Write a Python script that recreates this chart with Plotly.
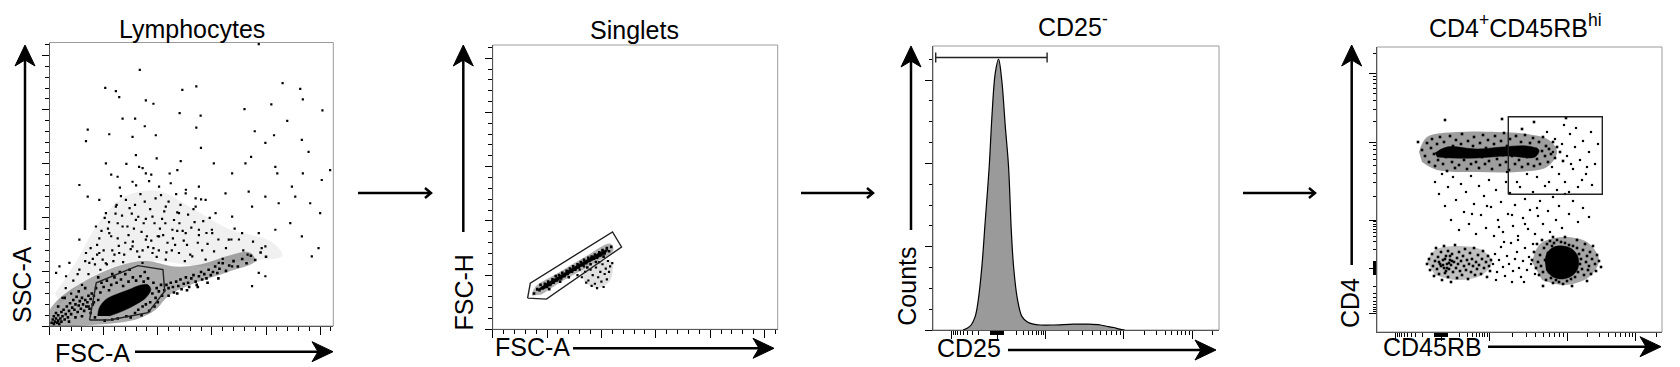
import numpy as np
import plotly.graph_objects as go

W, H = 1680, 367
FONT = "Liberation Sans, Arial, sans-serif"
FS = 25

# ---------------- data ----------------
# Panel 1: FSC-A vs SSC-A (units: thousands, linear 0-262K)
p1_gate = [(37, 5.5), (43.2, 39.9), (81.7, 55.8), (104.8, 52.2), (106.4, 32.2), (91, 12.3), (55.5, 5.5)]
p1_core = [(44.5, 9.2), (46, 16.9), (52.1, 24.5), (61.3, 29.1), (73.6, 33.7), (82.8, 37.4), (90.5, 38.3),
           (93.6, 33.7), (89, 26.1), (79.8, 19.9), (67.5, 13.8), (55.2, 9.2)]
p1_zone_dense = [(0, 0), (0, 14), (12, 28), (30, 40), (45, 48), (65, 56), (90, 60), (115, 55), (140, 57),
                 (165, 65), (185, 68), (190, 60), (165, 50), (135, 40), (110, 28), (98, 15), (80, 6), (55, 2),
                 (25, 0)]
p1_zone_med = [(5, 30), (25, 60), (45, 95), (70, 120), (100, 125), (130, 110), (165, 90), (205, 78), (215, 65),
               (180, 60), (140, 55), (100, 60), (60, 55), (30, 40), (10, 20)]
p1_sparse = [(51.5, 220.2), (61.3, 217.2), (64.4, 211.7), (83.4, 236.8), (122.7, 218.4), (135.6, 221.5),
             (193.3, 260.7), (215.3, 224.5), (231.6, 219.3), (234, 209.5), (252.1, 199.4), (204.9, 204.9),
             (180.1, 200.6), (219.6, 189.6), (96, 205.5), (89, 208.6), (120.2, 196.9), (139.6, 194.5),
             (135.6, 183.4), (67.5, 191.7), (79.1, 191.7), (55.2, 177.3), (35.3, 181.6), (33.7, 170.9),
             (76.7, 174.8), (88, 184.7), (98.2, 176.4), (139.9, 164.7), (189.6, 180.1), (233.1, 172.1),
             (207.4, 176.4), (199.4, 169.3), (52.1, 150.3), (62.9, 138), (76.7, 133.4), (79.8, 158),
             (121.2, 152.5), (118.1, 144.2), (151.8, 150.3), (168.7, 141.1), (181, 150.3), (186.2, 156.4),
             (208.6, 147.2), (210.4, 141.1), (234, 141.1), (259.2, 144.2), (251.5, 135), (239.3, 161),
             (223.9, 128.8), (184, 124.2), (162.6, 122.7), (138, 128.8), (125.8, 122.7), (101.2, 128.8),
             (89, 141.1), (82.8, 147.2), (70.6, 116.6), (61.3, 110.4), (52.1, 104.3), (46, 116.6),
             (35.3, 119.6), (27.6, 130.4), (42.9, 92), (55.2, 85.9), (67.5, 92), (79.8, 98.2), (95.1, 101.2),
             (107.4, 110.4), (119.6, 104.3), (135, 110.4), (144.2, 116.6), (153.4, 104.3), (168.7, 101.2),
             (187.1, 110.4), (199.4, 119.6), (211.7, 113.5), (227, 119.6), (240.8, 113.5), (250, 104.3),
             (222.4, 95.1), (208.6, 89), (193.3, 85.9), (177.9, 85.9), (165.6, 79.8), (150.3, 85.9),
             (138, 89), (125.8, 85.9), (113.5, 89), (101.2, 82.8), (89, 79.8), (76.7, 73.6), (64.4, 67.5),
             (46, 67.5), (33.7, 67.5), (27.6, 79.8), (18.4, 58.3), (15.3, 46), (9.2, 55.2), (6.1, 49.1),
             (27.6, 52.1), (36.8, 58.3), (49.1, 61.3), (242.3, 64.4), (248.5, 72.1), (233.1, 82.8),
             (199.4, 73.6), (199.4, 46), (193.3, 49.1), (187.1, 36.8), (168.7, 55.2), (156.4, 58.3),
             (144.2, 61.3), (131.9, 64.4), (119.6, 67.5), (107.4, 61.3), (95.1, 67.5), (85.9, 58.3)]
p1_medium = [(40, 62), (44, 75), (48, 88), (52, 58), (55, 96), (58, 70), (61, 104), (63, 81), (66, 120), (69, 66),
             (72, 92), (74, 109), (77, 78), (80, 130), (82, 101), (85, 87), (88, 115), (91, 73), (94, 140), (97, 95),
             (100, 83), (103, 121), (106, 106), (109, 77), (112, 132), (115, 98), (118, 88), (121, 112), (124, 79),
             (128, 103), (131, 91), (135, 118), (138, 84), (142, 97), (146, 76), (150, 89), (57, 140), (65, 128),
             (71, 150), (79, 112), (86, 146), (92, 134), (99, 155), (104, 99), (111, 141), (117, 122), (126, 126),
             (133, 108), (140, 117), (47, 52), (53, 57), (60, 66), (68, 59), (75, 71), (83, 64), (90, 83), (96, 72),
             (102, 90), (108, 68), (114, 81), (36, 48), (42, 57), (50, 70), (57, 83), (63, 95), (70, 77), (78, 90),
             (86, 70), (93, 108), (99, 64), (105, 84), (113, 70), (120, 95), (127, 75), (134, 96), (141, 70),
             (148, 100), (156, 80), (163, 72), (171, 90), (179, 70), (188, 78), (30, 38), (22, 42), (15, 35),
             (12, 26), (20, 30), (44, 66), (67, 102), (84, 122), (110, 115), (125, 60), (160, 62), (175, 80),
             (38, 72), (46, 81), (54, 90), (59, 60), (64, 74), (73, 84), (81, 69), (87, 95), (94, 79), (101, 70),
             (107, 95), (116, 75), (123, 88), (130, 66), (137, 77), (145, 86), (152, 69), (168, 80), (183, 66),
             (196, 72), (76, 104), (89, 99), (98, 118), (118, 105), (62, 112), (51, 100), (33, 60), (26, 48)]
p1_halo = [(38, 12), (40, 20), (41, 28), (42, 8), (43, 35), (45, 24), (47, 31), (48, 40), (50, 36), (51, 5),
           (53, 42), (55, 33), (57, 38), (58, 6), (60, 45), (62, 40), (63, 7), (66, 43), (68, 37), (70, 48),
           (71, 9), (73, 41), (75, 8), (77, 45), (79, 12), (80, 42), (82, 15), (84, 46), (86, 18), (87, 41),
           (89, 20), (91, 44), (93, 22), (95, 30), (96, 40), (98, 26), (99, 35), (101, 32), (103, 38), (104, 28),
           (97, 18), (92, 14), (85, 10), (100, 22), (58, 48), (65, 50), (74, 52), (88, 50), (45, 45), (36, 18)]
p1_streak = [(106, 33), (108, 38), (110, 35), (112, 40), (114, 36), (115, 31), (117, 41), (119, 37), (121, 43),
             (122, 34), (124, 39), (126, 45), (128, 40), (129, 36), (131, 44), (133, 47), (135, 41), (136, 38),
             (138, 46), (140, 50), (141, 43), (143, 48), (145, 44), (147, 52), (149, 47), (151, 50), (153, 55),
             (155, 49), (157, 53), (160, 58), (163, 51), (166, 56), (170, 60), (174, 55), (178, 62), (182, 58),
             (186, 65), (190, 61), (195, 68), (200, 64), (110, 28), (118, 30), (127, 33), (137, 36), (146, 40),
             (156, 44)]
p1_tail = [(2, 3), (3, 6), (4, 2), (4, 9), (5, 4), (6, 7), (6, 12), (7, 3), (8, 5), (8, 10), (9, 2), (10, 7),
           (11, 4), (11, 13), (12, 9), (13, 15), (14, 6), (15, 11), (16, 18), (17, 8), (18, 14), (19, 21),
           (20, 11), (21, 17), (22, 24), (23, 15), (24, 20), (25, 27), (26, 13), (27, 19), (28, 23), (29, 16),
           (30, 26), (31, 20), (32, 14), (33, 24), (34, 18), (35, 22), (36, 28), (37, 16), (38, 25), (39, 30),
           (24, 8), (30, 9), (18, 4), (14, 26), (8, 18), (27, 32), (33, 35), (41, 22)]

# Panel 2: FSC-A vs FSC-H (thousands)
p2_gate = [(32.1, 28.7), (34.6, 42.6), (110.2, 89.8), (118.5, 75.9), (49.4, 27.8)]
p2_core = [(40, 35.5), (46, 40), (60, 48.5), (80, 60.5), (100, 71.5), (106, 74), (104, 70.5), (85, 60), (65, 48),
           (47, 37)]
p2_zone_band = [(36, 31), (39, 39), (60, 52), (85, 67), (108, 79), (111, 73), (90, 59), (65, 45), (45, 32)]
p2_zone_below = [(80, 54), (96, 62), (109, 63), (108, 45), (96, 38), (85, 43)]
p2_band = [(38, 33), (41, 37), (43, 36), (44, 41), (46, 38), (48, 42), (50, 39), (51, 44), (53, 41), (55, 46),
           (56, 43), (58, 49), (59, 45), (61, 50), (63, 47), (64, 52), (66, 49), (68, 54), (69, 51), (71, 56),
           (73, 53), (74, 58), (76, 55), (78, 60), (79, 57), (81, 62), (83, 59), (84, 64), (86, 61), (88, 66),
           (89, 63), (91, 67), (93, 65), (94, 69), (96, 66), (98, 71), (99, 68), (101, 73), (103, 70), (105, 75),
           (107, 72), (109, 76), (102, 67), (95, 62), (90, 60), (87, 57), (70, 48), (62, 44), (52, 37)]
p2_below = [(78, 50), (82, 48), (85, 53), (88, 45), (90, 55), (92, 50), (94, 42), (95, 57), (97, 48), (99, 53),
            (100, 44), (101, 60), (103, 51), (104, 56), (105, 46), (106, 63), (107, 53), (108, 58), (96, 38),
            (91, 40), (86, 43), (102, 39), (84, 58), (80, 55), (110, 61), (98, 62)]

# Panel 3: CD25 histogram (x in display channels 0-285, y counts)
p3_channel = [30, 34, 38, 42, 45, 48.7, 52, 56, 59, 62, 65.3, 68.5, 72, 75.3, 78, 80.3, 84, 88.7, 93.7, 100,
              107, 120, 140, 155, 167, 175, 180, 186, 191]
p3_counts = [0, 2, 6, 16, 35, 76, 130, 196, 262, 308, 325, 300, 245, 196, 120, 76, 38, 16, 10, 7,
             6, 6, 7, 7, 6, 4, 3, 1, 0]
p3_gate = (2.7, 113.7)
p3_gate_level = 327

# Panel 4: CD45RB vs CD4 (display channels 0-285)
p4_gate = (131.3, 225.3, 137.7, 215.3)
p4_top_core = [(58, 179), (70, 185), (100, 183), (125, 185), (150, 186), (162, 182), (158, 175), (130, 176),
               (100, 174), (75, 174), (60, 175)]
p4_br_core = [(168, 70), (170, 79), (177, 85), (186, 86), (195, 83), (201, 75), (201, 64), (196, 57), (186, 53),
              (176, 55), (169, 62)]
p4_zone_top = [(42, 180), (50, 195), (80, 200), (120, 200), (150, 198), (172, 192), (180, 180), (170, 165),
               (140, 160), (100, 160), (60, 162), (45, 170)]
p4_zone_bl = [(50, 70), (58, 82), (80, 86), (105, 82), (115, 70), (105, 57), (80, 52), (58, 57)]
p4_zone_br = [(155, 70), (163, 88), (185, 95), (210, 90), (222, 72), (212, 55), (188, 47), (165, 52)]
p4_top = [(45, 182), (48, 176), (50, 189), (52, 170), (54, 184), (55, 193), (57, 178), (58, 166), (60, 188),
          (61, 172), (63, 195), (64, 181), (66, 168), (67, 190), (69, 175), (70, 161), (72, 183), (73, 196),
          (75, 170), (76, 186), (78, 164), (79, 192), (81, 177), (82, 167), (84, 188), (85, 198), (87, 172),
          (88, 182), (90, 163), (91, 191), (93, 176), (94, 168), (96, 186), (97, 195), (99, 170), (100, 180),
          (102, 164), (103, 189), (105, 175), (106, 197), (108, 168), (109, 184), (111, 192), (112, 171),
          (114, 179), (115, 163), (117, 188), (118, 196), (120, 173), (121, 182), (123, 167), (124, 191),
          (126, 177), (127, 199), (129, 170), (130, 186), (132, 162), (133, 193), (135, 176), (136, 184),
          (138, 168), (139, 196), (141, 180), (142, 172), (144, 190), (145, 165), (147, 184), (148, 197),
          (150, 175), (151, 168), (153, 189), (154, 180), (156, 194), (157, 166), (159, 183), (160, 173),
          (162, 190), (163, 168), (165, 181), (166, 195), (168, 176), (169, 186), (171, 170), (172, 183),
          (174, 178), (176, 190), (178, 174), (180, 185), (183, 180), (186, 171), (41, 190), (68, 212),
          (145, 203), (157, 210), (189, 214), (125, 213)]
p4_gate_pts = [(170, 200), (175, 165), (178, 193), (182, 158), (185, 188), (188, 150), (190, 176), (193, 198),
               (196, 163), (198, 185), (201, 145), (203, 172), (206, 191), (209, 158), (212, 180), (215, 147),
               (218, 168), (221, 188), (180, 142), (192, 140), (205, 152), (214, 200), (187, 207), (199, 204),
               (172, 150), (160, 155), (150, 158), (140, 150), (130, 160), (210, 165), (176, 180), (194, 168)]
p4_mid = [(58, 150), (62, 138), (65, 158), (68, 126), (71, 145), (74, 112), (76, 155), (79, 132), (82, 102),
          (84, 148), (87, 120), (89, 140), (92, 108), (94, 156), (97, 128), (99, 98), (102, 146), (104, 117),
          (107, 136), (109, 104), (112, 152), (114, 125), (117, 96), (119, 142), (121, 112), (124, 130),
          (126, 100), (129, 150), (131, 118), (133, 139), (136, 106), (138, 127), (141, 96), (143, 145),
          (146, 114), (148, 133), (151, 103), (153, 122), (156, 140), (158, 98), (161, 116), (163, 131),
          (166, 108), (168, 146), (171, 121), (173, 100), (176, 135), (179, 112), (182, 126), (185, 104),
          (188, 138), (192, 118), (196, 131), (201, 110), (206, 124), (212, 115), (95, 118), (110, 126),
          (122, 105), (135, 117), (148, 108), (160, 124)]
p4_bl = [(50, 68), (52, 73), (53, 62), (55, 78), (56, 66), (57, 56), (58, 71), (59, 84), (60, 63), (61, 75),
         (62, 58), (63, 68), (64, 80), (65, 52), (66, 72), (67, 64), (67, 86), (68, 59), (69, 76), (70, 68),
         (71, 55), (71, 81), (72, 63), (73, 72), (74, 50), (74, 67), (75, 78), (76, 60), (77, 70), (78, 87),
         (79, 64), (80, 74), (80, 54), (81, 68), (82, 80), (83, 61), (84, 71), (85, 57), (86, 76), (87, 66),
         (88, 83), (89, 62), (90, 72), (91, 53), (92, 68), (93, 79), (94, 60), (95, 73), (96, 66), (97, 84),
         (98, 57), (99, 70), (100, 63), (101, 77), (102, 67), (104, 58), (105, 73), (106, 81), (107, 64),
         (109, 70), (110, 55), (111, 76), (112, 66), (113, 61), (114, 72), (62, 70), (66, 67), (68, 73),
         (70, 64), (72, 69), (75, 71), (69, 61), (73, 76), (64, 66)]
p4_lm = [(116, 68), (118, 78), (120, 60), (122, 72), (124, 85), (126, 65), (128, 56), (130, 76), (132, 68),
         (134, 89), (136, 61), (138, 73), (140, 80), (142, 64), (144, 55), (146, 71), (148, 84), (150, 62),
         (152, 75), (154, 68), (156, 88), (158, 58), (119, 52), (127, 90), (141, 92), (135, 50), (147, 50)]
p4_br = [(155, 72), (157, 80), (159, 64), (160, 88), (161, 70), (162, 57), (163, 77), (164, 66), (165, 92),
         (166, 60), (167, 84), (168, 72), (169, 52), (170, 88), (171, 79), (172, 60), (173, 91), (174, 54),
         (175, 86), (176, 49), (177, 89), (179, 52), (180, 92), (182, 50), (184, 90), (186, 48), (188, 89),
         (190, 51), (192, 87), (194, 53), (196, 86), (198, 55), (200, 84), (201, 60), (202, 78), (203, 68),
         (204, 73), (205, 63), (206, 82), (207, 57), (208, 88), (209, 70), (210, 76), (211, 62), (212, 66),
         (213, 80), (214, 58), (215, 73), (216, 86), (218, 68), (219, 61), (220, 77), (222, 71), (224, 65),
         (200, 92), (188, 95), (176, 95), (166, 46), (195, 46), (210, 51)]

titles = ["Lymphocytes", "Singlets", "CD25<sup>-</sup>", "CD4<sup>+</sup>CD45RB<sup>hi</sup>"]
xlabels = ["FSC-A", "FSC-A", "CD25", "CD45RB"]
ylabels = ["SSC-A", "FSC-H", "Counts", "CD4"]

# biexponential display transform (value -> display channel)
BX_POS_LOG = [2, 3, 4, 5, 5.301]
BX_POS_U = [70.5, 112, 190, 258.7, 279]
BX_NEG_LOG = [2, 3]
BX_NEG_U = [57.5, 18.5]
BX_ZERO = 64


def biex(v):
    if abs(v) <= 100:
        return BX_ZERO + (v / 100) * ((BX_POS_U[0] - BX_ZERO) if v >= 0 else (BX_ZERO - BX_NEG_U[0]))
    if v > 0:
        return float(np.interp(np.log10(v), BX_POS_LOG, BX_POS_U))
    return float(np.interp(np.log10(-v), BX_NEG_LOG, BX_NEG_U))


biex_major = [-1000, 0, 1000, 10000, 100000]
biex_minor = ([-m * 100 for m in range(2, 10)] + [-m * 10 for m in range(1, 11)] + [m * 10 for m in range(1, 11)]
              + [m * 100 for m in range(2, 10)] + [m * 1000 for m in range(2, 10)]
              + [m * 10000 for m in range(2, 10)] + [200000])

# ---------------- layout geometry (pixels) ----------------
frames = [(49.5, 333.3, 42.5, 326), (492.7, 777.7, 45, 329.3), (933, 1219, 46, 330), (1377, 1662, 47, 332)]


def X(px):
    return px / W


def Y(py):
    return 1 - py / H


fig = go.Figure()


def add_zone(pts, ax, alpha):
    fig.add_trace(go.Scatter(x=[p[0] for p in pts], y=[p[1] for p in pts], mode="lines", fill="toself",
                             fillcolor="rgba(0,0,0,{})".format(alpha),
                             line=dict(color="rgba(0,0,0,0)", width=0, shape="spline"),
                             xaxis="x" + ax, yaxis="y" + ax, hoverinfo="skip"))


def add_dots(pts, ax, size=2.2):
    fig.add_trace(go.Scatter(x=[p[0] for p in pts], y=[p[1] for p in pts], mode="markers",
                             marker=dict(size=size, color="black", symbol="square", line=dict(width=0)),
                             xaxis="x" + ax, yaxis="y" + ax, hoverinfo="skip"))


def add_blob(pts, ax):
    fig.add_trace(go.Scatter(x=[p[0] for p in pts], y=[p[1] for p in pts], mode="lines", fill="toself",
                             fillcolor="black", line=dict(color="black", width=0.5, shape="spline"),
                             xaxis="x" + ax, yaxis="y" + ax, hoverinfo="skip"))


def add_gate(pts, ax):
    pts = list(pts) + [pts[0]]
    fig.add_trace(go.Scatter(x=[p[0] for p in pts], y=[p[1] for p in pts], mode="lines",
                             line=dict(color="#222", width=1.4), xaxis="x" + ax, yaxis="y" + ax,
                             hoverinfo="skip"))


# Panel 1
add_zone(p1_zone_med, "", 0.06)
add_zone(p1_zone_dense, "", 0.33)
add_dots(p1_sparse, "")
add_dots(p1_medium, "")
add_dots(p1_halo, "", 2.6)
add_dots(p1_streak, "", 2.6)
add_dots(p1_tail, "", 2.6)
add_blob(p1_core, "")
add_gate(p1_gate, "")

# Panel 2
add_zone(p2_zone_below, "2", 0.12)
add_zone(p2_zone_band, "2", 0.3)
add_dots(p2_band, "2", 2.6)
add_dots(p2_below, "2")
add_blob(p2_core, "2")
add_gate(p2_gate, "2")

# Panel 3
fig.add_trace(go.Scatter(x=p3_channel, y=p3_counts, mode="lines", fill="tozeroy", fillcolor="#9a9a9a",
                         line=dict(color="black", width=1.2, shape="spline"), xaxis="x3", yaxis="y3",
                         hoverinfo="skip"))
g0, g1 = p3_gate
fig.add_trace(go.Scatter(x=[g0, g0, None, g0, g1, None, g1, g1],
                         y=[p3_gate_level - 6, p3_gate_level + 6, None, p3_gate_level, p3_gate_level, None,
                            p3_gate_level - 6, p3_gate_level + 6],
                         mode="lines", line=dict(color="#222", width=1.4), xaxis="x3", yaxis="y3",
                         hoverinfo="skip"))

# Panel 4
add_zone(p4_zone_top, "4", 0.38)
add_zone(p4_zone_bl, "4", 0.25)
add_zone(p4_zone_br, "4", 0.35)
add_dots(p4_top, "4", 2.6)
add_dots(p4_gate_pts, "4")
add_dots(p4_mid, "4")
add_dots(p4_bl, "4", 2.6)
add_dots(p4_lm, "4")
add_dots(p4_br, "4", 2.6)
add_blob(p4_top_core, "4")
add_blob(p4_br_core, "4")
gx0, gx1, gy0, gy1 = p4_gate
add_gate([(gx0, gy0), (gx0, gy1), (gx1, gy1), (gx1, gy0)], "4")

# axes
lin_major = [0, 50, 100, 150, 200, 250]
lin_minor = [v for v in range(0, 261, 10) if v % 50]
cnt_major = [0, 100, 200, 300]
cnt_minor = [v for v in range(25, 340, 25) if v % 100]

axcommon = dict(showgrid=False, zeroline=False, showticklabels=False, ticks="outside", tickcolor="black",
                tickwidth=1, showline=True, linecolor="#555", linewidth=1, mirror=False, fixedrange=True)


def axis_spec(dom, rng, major, minor, ticklen, minorlen, anchor):
    d = dict(axcommon)
    d.update(domain=dom, range=rng, tickmode="array", tickvals=major, ticklen=ticklen, anchor=anchor,
             minor=dict(tickmode="array", tickvals=minor, ticklen=minorlen, ticks="outside",
                        tickcolor="black", tickwidth=1))
    return d


bmaj = [biex(v) for v in biex_major]
bmin = [biex(v) for v in biex_minor]

specs = [
    (lin_major, lin_minor, [0, 262.144], lin_major, lin_minor, [0, 262.144]),
    (lin_major, lin_minor, [0, 262.144], lin_major, lin_minor, [0, 262.144]),
    (bmaj, bmin, [0, 285], cnt_major, cnt_minor, [0, (330 - 46) / (250 / 3) * 100]),
    (bmaj, bmin, [0, 285], bmaj, bmin, [0, 285]),
]
for i, (fr, sp) in enumerate(zip(frames, specs)):
    l, r, t, b = fr
    sfx = "" if i == 0 else str(i + 1)
    fig.layout["xaxis" + sfx] = axis_spec([X(l), X(r)], sp[2], sp[0], sp[1], 8, 4, "y" + sfx)
    fig.layout["yaxis" + sfx] = axis_spec([Y(b), Y(t)], sp[5], sp[3], sp[4], 7, 3.5, "x" + sfx)

shapes = []
for i, (l, r, t, b) in enumerate(frames):
    shapes.append(dict(type="rect", xref="paper", yref="paper", x0=X(l), x1=X(r), y0=Y(b), y1=Y(t),
                       line=dict(color="#9a9a9a", width=1), layer="below"))


def big_arrow_v(x, y0, ytip):
    shapes.append(dict(type="line", xref="paper", yref="paper", x0=X(x), x1=X(x), y0=Y(y0), y1=Y(ytip + 12),
                       line=dict(color="black", width=2.5)))
    path = "M {},{} L {},{} L {},{} L {},{} Z".format(X(x), Y(ytip), X(x - 10), Y(ytip + 21), X(x), Y(ytip + 15),
                                                     X(x + 10), Y(ytip + 21))
    shapes.append(dict(type="path", xref="paper", yref="paper", path=path, fillcolor="black",
                       line=dict(color="black", width=1)))


def big_arrow_h(y, x0, xtip):
    shapes.append(dict(type="line", xref="paper", yref="paper", x0=X(x0), x1=X(xtip - 12), y0=Y(y), y1=Y(y),
                       line=dict(color="black", width=2.5)))
    path = "M {},{} L {},{} L {},{} L {},{} Z".format(X(xtip), Y(y), X(xtip - 21), Y(y - 10), X(xtip - 15), Y(y),
                                                     X(xtip - 21), Y(y + 10))
    shapes.append(dict(type="path", xref="paper", yref="paper", path=path, fillcolor="black",
                       line=dict(color="black", width=1)))


def small_arrow(x0, x1, y):
    shapes.append(dict(type="line", xref="paper", yref="paper", x0=X(x0), x1=X(x1 - 1), y0=Y(y), y1=Y(y),
                       line=dict(color="black", width=2.5)))
    path = "M {},{} L {},{} L {},{}".format(X(x1 - 6), Y(y - 5), X(x1), Y(y), X(x1 - 6), Y(y + 5))
    shapes.append(dict(type="path", xref="paper", yref="paper", path=path, line=dict(color="black", width=2.5)))


for (x, y0, yt) in [(25, 230, 45), (463.3, 232, 45), (911, 230, 46), (1351.7, 265, 45)]:
    big_arrow_v(x, y0, yt)
for (y, x0, xt) in [(351.7, 135, 333), (348.3, 573, 774), (350, 1008, 1216), (346.7, 1488, 1661)]:
    big_arrow_h(y, x0, xt)
for (x0, x1) in [(358, 431), (801, 873), (1243, 1315)]:
    small_arrow(x0, x1, 193)

annotations = []
title_pos = [(192, 29), (634, 30), (1073, 25), (1515, 26)]
for txt, (cx, cy) in zip(titles, title_pos):
    annotations.append(dict(text=txt, x=X(cx), y=Y(cy), xref="paper", yref="paper", showarrow=False,
                            xanchor="center", yanchor="middle", font=dict(family=FONT, size=FS, color="black")))
xl_pos = [(53, 353), (493, 347), (935, 348), (1381, 347)]
for txt, (lx, cy) in zip(xlabels, xl_pos):
    annotations.append(dict(text=txt, x=X(lx), y=Y(cy), xref="paper", yref="paper", showarrow=False,
                            xanchor="left", yanchor="middle", font=dict(family=FONT, size=FS, color="black")))
yl_pos = [(22, 285), (463, 292.5), (907, 286.7), (1350, 303)]
for txt, (cx, cy) in zip(ylabels, yl_pos):
    annotations.append(dict(text=txt, x=X(cx), y=Y(cy), xref="paper", yref="paper", showarrow=False,
                            textangle=-90, xanchor="center", yanchor="middle",
                            font=dict(family=FONT, size=FS, color="black")))

fig.update_layout(width=W, height=H, margin=dict(l=0, r=0, t=0, b=0), paper_bgcolor="white",
                  plot_bgcolor="white", showlegend=False, shapes=shapes, annotations=annotations,
                  font=dict(family=FONT))

fig.write_html("out.html", config={"displayModeBar": False},
               post_script="document.body.style.margin='0';document.body.style.overflow='hidden';")
